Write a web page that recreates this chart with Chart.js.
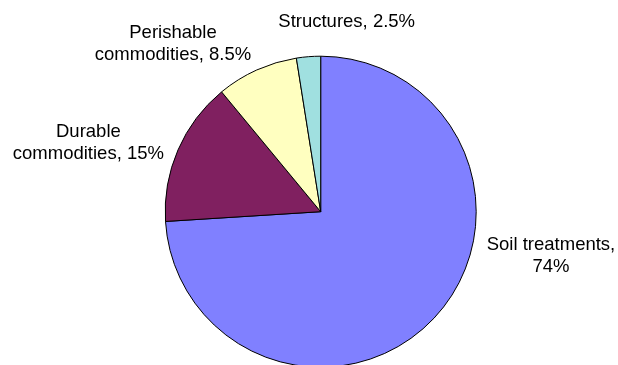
<!DOCTYPE html>
<html>
<head>
<meta charset="utf-8">
<script src="https://cdn.jsdelivr.net/npm/chart.js@4/dist/chart.umd.min.js"></script>
<style>
  html, body { margin: 0; padding: 0; background: #ffffff; }
  #wrap { width: 618px; height: 365px; }
</style>
</head>
<body>
<div id="wrap"><canvas id="c" width="618" height="365"></canvas></div>
<script>
// ---- data ----
const categories = ["Soil treatments", "Durable commodities", "Perishable commodities", "Structures"];
const shares = [74, 15, 8.5, 2.5];
const sliceColors = ["#8080FF", "#802060", "#FFFFC0", "#A0E0E0"];

// label placement (relative to pie centre, in units of the pie radius): first baseline
const labelAnchors = [
  [1.481, 0.246],
  [-1.494, -0.478],
  [-0.950, -1.115],
  [0.167, -1.190]
];

const LABEL_FONT = '18.5px "Liberation Sans", Arial, sans-serif';
const LINE_HEIGHT = 22;
const WRAP_WIDTH = 160;

function wrapText(ctx, text, maxW) {
  const words = text.split(' ');
  const lines = [];
  let cur = '';
  for (const w of words) {
    const test = cur ? cur + ' ' + w : w;
    if (cur && ctx.measureText(test).width > maxW) {
      lines.push(cur);
      cur = w;
    } else {
      cur = test;
    }
  }
  if (cur) lines.push(cur);
  return lines;
}

const labelPlugin = {
  id: 'sliceLabels',
  afterDatasetsDraw(chart) {
    const ctx = chart.ctx;
    const meta = chart.getDatasetMeta(0);
    ctx.save();
    ctx.font = LABEL_FONT;
    ctx.fillStyle = '#000000';
    ctx.textAlign = 'center';
    ctx.textBaseline = 'alphabetic';
    meta.data.forEach((arc, i) => {
      const r = arc.outerRadius;
      const text = categories[i] + ', ' + shares[i] + '%';
      const lines = wrapText(ctx, text, WRAP_WIDTH);
      const x = arc.x + labelAnchors[i][0] * r;
      const y0 = arc.y + labelAnchors[i][1] * r;
      lines.forEach((ln, k) => ctx.fillText(ln, x, y0 + k * LINE_HEIGHT));
    });
    ctx.restore();
  }
};

new Chart(document.getElementById('c'), {
  type: 'pie',
  data: {
    labels: categories,
    datasets: [{
      data: shares,
      backgroundColor: sliceColors,
      borderColor: '#000000',
      borderWidth: 1
    }]
  },
  options: {
    responsive: false,
    animation: false,
    radius: 155.5,
    layout: { padding: { left: 23.4, right: 0, top: 58.4, bottom: 0 } },
    plugins: {
      legend: { display: false },
      tooltip: { enabled: false }
    }
  },
  plugins: [labelPlugin]
});
</script>
</body>
</html>
